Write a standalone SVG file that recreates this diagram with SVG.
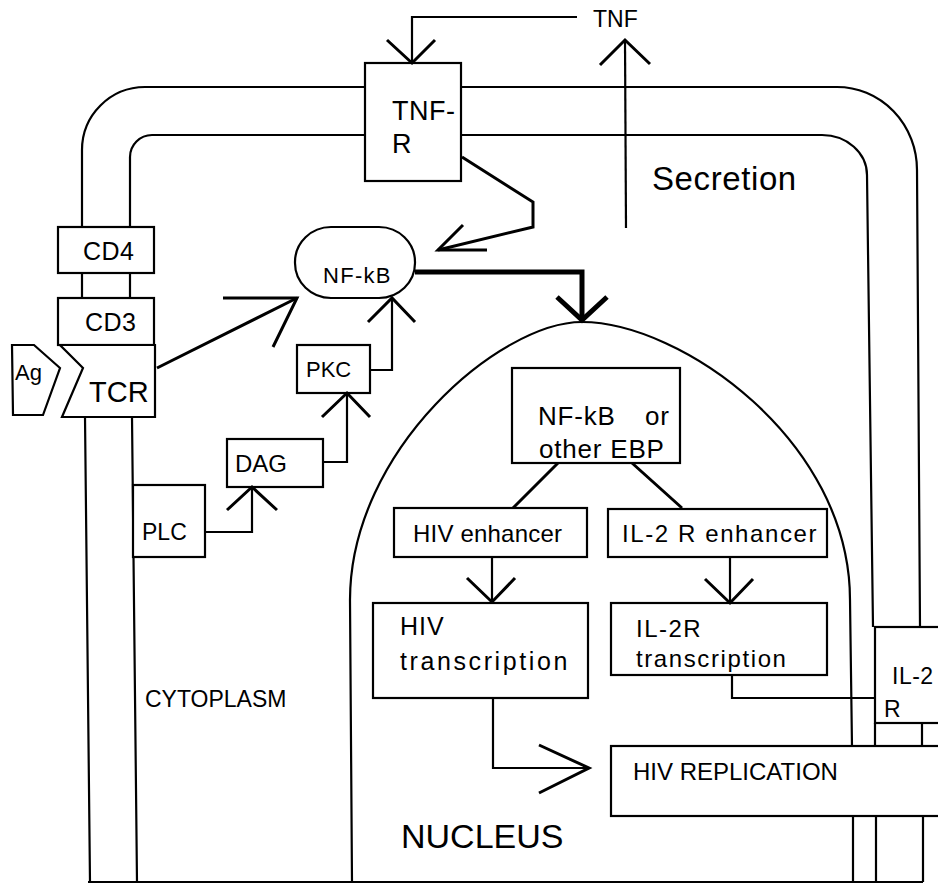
<svg xmlns="http://www.w3.org/2000/svg" width="938" height="886" viewBox="0 0 938 886">
<style>
.ln{fill:none;stroke:#000;stroke-width:2.2;stroke-linejoin:miter}
.ar{fill:none;stroke:#000;stroke-width:3;stroke-linejoin:miter}
.hv{fill:none;stroke:#000;stroke-width:5;stroke-linejoin:miter}
.box{fill:#fff;stroke:#000;stroke-width:2.2}
text{font-family:"Liberation Sans",Arial,Helvetica,sans-serif;fill:#000}
</style>
<rect width="938" height="886" fill="#fff"/>
<g id="membrane">
<path class="ln" d="M82,227 V150 A63,63 0 0 1 145,87 H365"/>
<path class="ln" d="M130,227 V157 A22,22 0 0 1 152,135 H365"/>
<path class="ln" d="M461,87 H837 A80,83 0 0 1 917,170 L920,627"/>
<path class="ln" d="M461,135 H822 A45,40 0 0 1 867,175 L873,627"/>
<path class="ln" d="M82,273 V298 M130,273 V298"/>
<path class="ln" d="M85,417 L90,882 M132,417 L137,882"/>
<path class="ln" d="M88,882 H923"/>
<path class="ln" d="M875,723 V747 M922,723 V747 M853,817 V882 M876,817 V882 M923,817 V882"/>
</g>
<g id="nucleus">
<path class="ln" d="M352,882 L350,600 C350,450 500,322 582,322 C680,322 850,440 850,600 L852,747"/>
<text x="401" y="848" font-size="34">NUCLEUS</text>
</g>
<g id="cytoplasm">
<text x="145" y="707" font-size="23">CYTOPLASM</text>
</g>
<g id="secretion">
<text x="652" y="190" font-size="33" letter-spacing="0.6">Secretion</text>
</g>
<g id="tnf">
<text x="593" y="27" font-size="23">TNF</text>
</g>
<g id="tnfr">
<rect class="box" x="365" y="63" width="96" height="118"/>
<text x="392" y="120" font-size="27" letter-spacing="0.5">TNF-</text>
<text x="392" y="153" font-size="27">R</text>
</g>
<g id="cd4">
<rect class="box" x="58" y="227" width="96" height="46"/>
<text x="83" y="260" font-size="25" letter-spacing="0.5">CD4</text>
</g>
<g id="cd3">
<rect class="box" x="58" y="298" width="96" height="47"/>
<text x="85" y="331" font-size="25" letter-spacing="0.5">CD3</text>
</g>
<g id="tcr">
<polygon class="box" points="60,345 155,345 155,417 62,417 83,368"/>
<text x="89" y="402" font-size="29">TCR</text>
</g>
<g id="ag">
<polygon class="box" points="12,345 34,345 60,368 43,415 13,415"/>
<text x="15" y="380" font-size="22">Ag</text>
</g>
<g id="nfkb">
<rect class="box" x="295" y="227" width="120" height="71" rx="36" ry="35"/>
<text x="323" y="283" font-size="22" letter-spacing="1.3">NF-kB</text>
</g>
<g id="pkc">
<rect class="box" x="297" y="345" width="73" height="48"/>
<text x="306" y="377" font-size="22">PKC</text>
</g>
<g id="dag">
<rect class="box" x="227" y="439" width="96" height="48"/>
<text x="235" y="472" font-size="24">DAG</text>
</g>
<g id="plc">
<rect class="box" x="133" y="485" width="72" height="72"/>
<text x="142" y="540" font-size="23">PLC</text>
</g>
<g id="ebp">
<rect class="box" x="512" y="368" width="168" height="95"/>
<text x="538" y="425" font-size="26" letter-spacing="0.8"><tspan>NF-kB</tspan><tspan x="645">or</tspan></text>
<text x="539" y="458" font-size="26" letter-spacing="0.8">other EBP</text>
</g>
<g id="hiv-enhancer">
<rect class="box" x="394" y="508" width="193" height="49"/>
<text x="413" y="542" font-size="24" letter-spacing="0.2">HIV enhancer</text>
</g>
<g id="il2r-enhancer">
<rect class="box" x="608" y="509" width="219" height="48"/>
<text x="622" y="542" font-size="24" letter-spacing="1.6">IL-2 R enhancer</text>
</g>
<g id="hiv-transcription">
<rect class="box" x="373" y="603" width="215" height="95"/>
<text x="400" y="635" font-size="25" letter-spacing="1">HIV</text>
<text x="400" y="670" font-size="25" letter-spacing="2.6">transcription</text>
</g>
<g id="il2r-transcription">
<rect class="box" x="611" y="603" width="216" height="72"/>
<text x="636" y="637" font-size="24" letter-spacing="1.5">IL-2R</text>
<text x="636" y="667" font-size="24" letter-spacing="1.6">transcription</text>
</g>
<g id="il2r">
<rect class="box" x="875" y="627" width="70" height="96"/>
<text x="892" y="684" font-size="23" letter-spacing="0.5">IL-2</text>
<text x="884" y="717" font-size="23">R</text>
</g>
<g id="hiv-replication">
<rect class="box" x="611" y="746" width="340" height="70"/>
<text x="633" y="780" font-size="24">HIV REPLICATION</text>
</g>
<g id="connectors">
<path class="ln" d="M577,17 H412 V63"/>
<polyline class="ar" points="387,40 412,63 435,40"/>
<path class="ln" d="M626,228 L625,40"/>
<polyline class="ar" points="600,65 625,40 650,64"/>
<polyline class="ar" points="462,157 533,202 533,227 438,250"/>
<polyline class="ar" points="463,225 438,250 487,250"/>
<polyline class="ar" points="157,368 297,298"/>
<polyline class="ar" points="223,298 297,298 273,347"/>
<polyline class="ln" points="370,370 392,370 392,298"/>
<polyline class="ar" points="368,322 392,298 415,322"/>
<polyline class="ln" points="323,462 347,462 347,393"/>
<polyline class="ar" points="322,417 347,393 370,417"/>
<polyline class="ln" points="205,532 252,532 252,487"/>
<polyline class="ar" points="227,510 252,487 277,510"/>
<polyline class="hv" points="415,272 582,272 582,320"/>
<polyline class="hv" points="557,297 582,320 607,297"/>
<path class="ar" d="M558,463 L513,508 M632,463 L682,508" stroke-width="3.5"/>
<path class="ln" d="M492,557 V602"/>
<polyline class="ar" points="467,578 492,602 515,578"/>
<path class="ln" d="M730,557 V603"/>
<polyline class="ar" points="705,579 730,603 753,579"/>
<polyline class="ln" points="732,675 732,698 875,698"/>
<polyline class="ln" points="493,698 493,768 588,768"/>
<polyline class="ar" points="539,745 589,768 539,793"/>
</g>
</svg>
